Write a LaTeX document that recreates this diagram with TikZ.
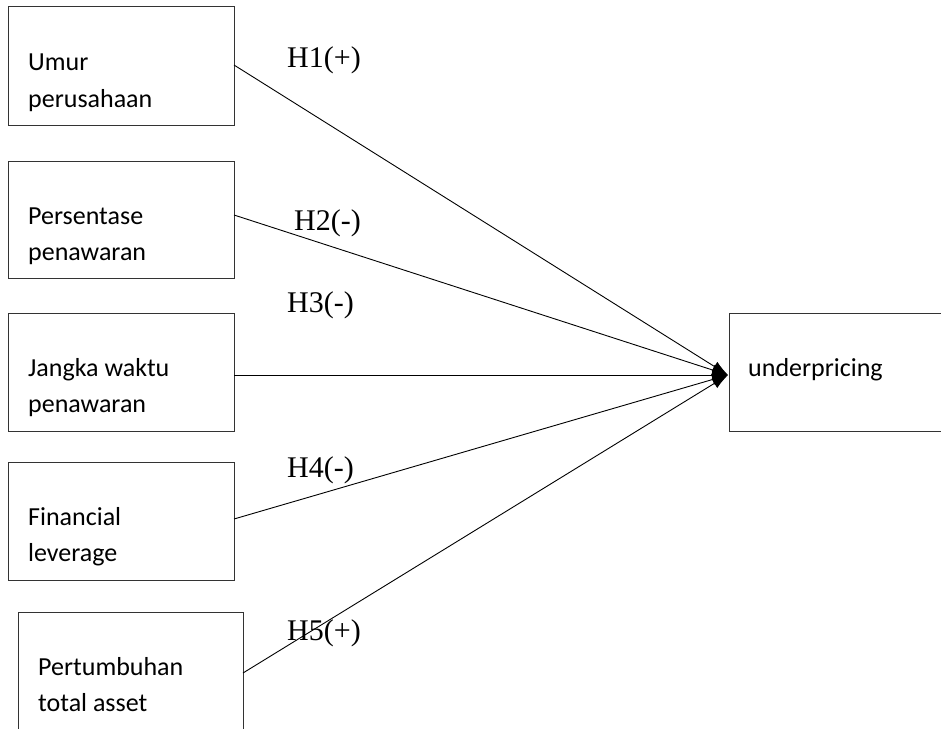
\documentclass[tikz,border=0pt]{standalone}
\usepackage{fontspec}
\setmainfont{Liberation Serif}
\newfontfamily\boxfont{Carlito}
\usetikzlibrary{arrows.meta}
\begin{document}
\begin{tikzpicture}[x=1pt,y=-1pt,
  varbox/.style={draw=black!80,line width=1pt,rectangle,inner sep=0pt,anchor=north west},
  boxtext/.style={anchor=base west,inner sep=0pt,font=\boxfont\fontsize{26}{26}\selectfont},
  hyp/.style={anchor=base west,inner sep=0pt,font=\fontsize{30}{30}\selectfont},
  link/.style={line width=0.9pt,-{Latex[length=16pt,width=11pt]}}]
\useasboundingbox (0,0) rectangle (941,728);
\node[varbox,minimum width=226pt,minimum height=119pt] (b1) at (8,6) {};
\node[varbox,minimum width=226pt,minimum height=117pt] (b2) at (8,161) {};
\node[varbox,minimum width=226pt,minimum height=118pt] (b3) at (8,313) {};
\node[varbox,minimum width=226pt,minimum height=118pt] (b4) at (8,462) {};
\node[varbox,minimum width=225pt,minimum height=120pt] (b5) at (18,612) {};
\node[varbox,minimum width=214pt,minimum height=118pt] (ub) at (729,313) {};
\node[boxtext] (t1a) at (28,70) {Umur};
\node[boxtext] (t1b) at (28,107) {perusahaan};
\node[boxtext] (t2a) at (28,224) {Persentase};
\node[boxtext] (t2b) at (28,260) {penawaran};
\node[boxtext] (t3a) at (28,376) {Jangka waktu};
\node[boxtext] (t3b) at (28,412) {penawaran};
\node[boxtext] (t4a) at (28,525) {Financial};
\node[boxtext] (t4b) at (28,561) {leverage};
\node[boxtext] (t5a) at (38,675) {Pertumbuhan};
\node[boxtext] (t5b) at (38,711) {total asset};
\node[boxtext] (tu) at (748,376) {underpricing};
\coordinate (tip) at (728,375);
\coordinate (s1) at (234,65);
\coordinate (s2) at (234,215);
\coordinate (s3) at (234,375);
\coordinate (s4) at (234,519);
\coordinate (s5) at (243,673);
\draw[link] (s1) -- (tip);
\draw[link] (s2) -- (tip);
\draw[link] (s3) -- (tip);
\draw[link] (s4) -- (tip);
\draw[link] (s5) -- (tip);
\node[hyp] (h1) at (287,67) {H1(+)};
\node[hyp] (h2) at (294,230) {H2(-)};
\node[hyp] (h3) at (287,312) {H3(-)};
\node[hyp] (h4) at (287,477) {H4(-)};
\node[hyp] (h5) at (287,640) {H5(+)};
\end{tikzpicture}
\end{document}
